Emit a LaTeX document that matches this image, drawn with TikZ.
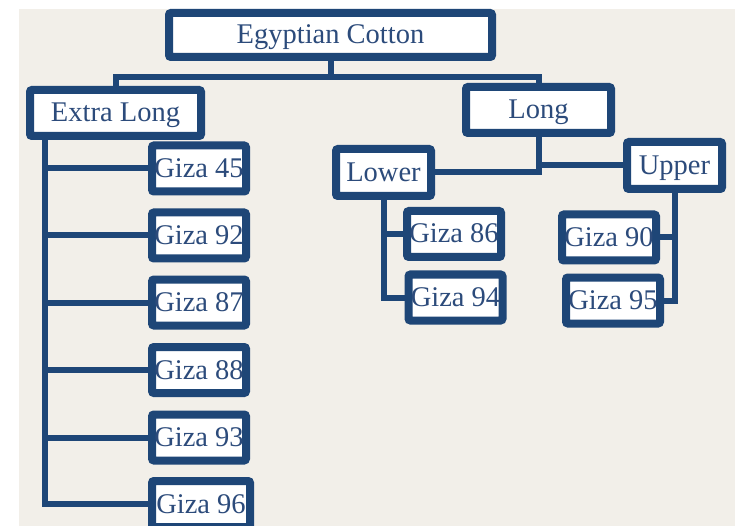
\documentclass[tikz,border=0pt]{standalone}
\usepackage{fontspec}
\setmainfont{Liberation Serif}
\definecolor{bg}{HTML}{F2EFE9}
\definecolor{navy}{HTML}{1E4677}
\definecolor{txt}{HTML}{2C4B7B}
\begin{document}
\begin{tikzpicture}[x=1pt,y=-1pt,
  box/.style={draw=navy, line width=8pt, fill=white, rounded corners=2pt, inner sep=0pt,
    text=txt, font=\fontsize{28.5}{30}\selectfont, text height=18pt, text depth=0pt},
  giza/.style={box, minimum width=94pt, minimum height=46pt},
  conn/.style={draw=navy, line width=6pt, line join=miter}]
\clip (0,0) rectangle (735,526);
\fill[white] (0,0) rectangle (735,526);
\fill[bg] (19,9) rectangle (735,526);

\node[box, minimum width=323pt, minimum height=44pt] (eg) at (330.5,35) {Egyptian Cotton};
\node[box, minimum width=171pt, minimum height=46pt] (el) at (115.5,113) {Extra Long};
\node[box, minimum width=145pt, minimum height=46pt] (long) at (538.5,110) {Long};
\node[box, minimum width=95pt, minimum height=47pt] (lower) at (383.5,172.5) {Lower};
\node[box, minimum width=95pt, minimum height=47pt] (upper) at (674.5,165.5) {Upper};

\node[giza] (g86) at (454,234) {Giza 86};
\node[giza] (g94) at (455.5,297.5) {Giza 94};
\node[giza] (g90) at (609,237.5) {Giza 90};
\node[giza] (g95) at (613,300.5) {Giza 95};

\node[giza] (g45) at (199,168.5) {Giza 45};
\node[giza] (g92) at (199,235.5) {Giza 92};
\node[giza] (g87) at (199,302.5) {Giza 87};
\node[giza] (g88) at (199,370) {Giza 88};
\node[giza] (g93) at (199,437.5) {Giza 93};
\node[giza, minimum width=98pt] (g96) at (201,504) {Giza 96};

% top level
\coordinate (bar) at (0,77);
\draw[conn] (el.north) -- (el.north |- bar) -- (long.north |- bar) -- (long.north);
\draw[conn] (eg.south) -- (eg.south |- bar);

% Long branch
\draw[conn] (lower.east) -- (long.south |- lower.east) -- (long.south);
\draw[conn] (upper.west) -- (long.south |- upper.west);

% Lower
\draw[conn] (lower.south) |- (g94.west);
\draw[conn] (lower.south |- g86.west) -- (g86.west);

% Upper
\draw[conn] (upper.south) |- (g95.east);
\draw[conn] (upper.south |- g90.east) -- (g90.east);

% Extra Long
\coordinate (elv) at (45,0);
\draw[conn] (el.south -| elv) |- (g96.west);
\draw[conn] (elv |- g45.west) -- (g45.west);
\draw[conn] (elv |- g92.west) -- (g92.west);
\draw[conn] (elv |- g87.west) -- (g87.west);
\draw[conn] (elv |- g88.west) -- (g88.west);
\draw[conn] (elv |- g93.west) -- (g93.west);
\end{tikzpicture}
\end{document}
